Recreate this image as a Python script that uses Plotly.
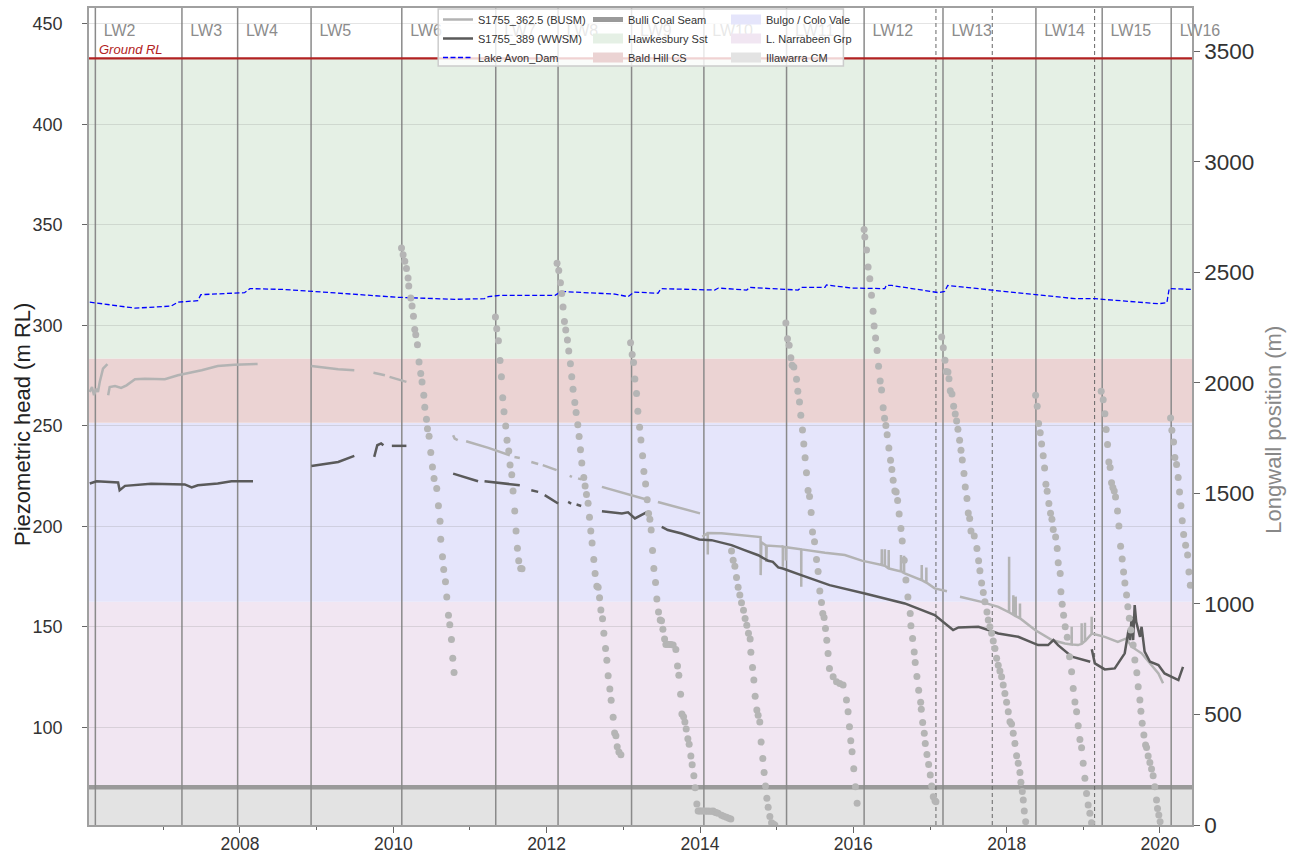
import plotly.graph_objects as go
from datetime import datetime

# ---------------- data (decimal years) ----------------
# Lake Avon dam level (m RL)
dam_t = [2006.04, 2006.63, 2007.10, 2007.19, 2007.45, 2007.49, 2008.06, 2008.13, 2008.58, 2008.93,
         2009.45, 2010.06, 2010.80, 2011.19, 2011.24, 2011.41, 2012.11, 2012.19, 2012.89, 2013.06,
         2013.14, 2013.45, 2013.49, 2014.19, 2014.24, 2014.61, 2014.65, 2015.28, 2015.32, 2015.63,
         2015.65, 2015.98, 2016.41, 2016.43, 2016.50, 2017.11, 2017.19, 2017.23, 2017.80, 2018.89,
         2019.15, 2019.98, 2020.09, 2020.12, 2020.41]
dam_v = [311.5, 308.5, 309.5, 311.5, 312.2, 315.2, 316.2, 318.2, 317.8, 316.8,
         315.5, 313.9, 312.9, 313.2, 314.2, 314.9, 314.9, 316.8, 315.5, 314.2,
         316.5, 315.9, 318.2, 317.5, 318.5, 317.5, 318.8, 317.5, 318.8, 318.8,
         320.0, 318.5, 318.2, 319.8, 319.8, 316.2, 316.8, 319.8, 317.5, 313.2,
         313.2, 310.7, 311.2, 318.2, 317.8]

# S1755_362.5 (BUSM) piezometric head, None = data gap
busm_t = [2006.04, 2006.069, 2006.095, 2006.127, 2006.147, 2006.17, 2006.213, 2006.27, None,
          2006.28, 2006.30, 2006.37, 2006.45, 2006.52, 2006.63, 2006.76, 2007.02, 2007.19, 2007.50,
          2007.71, 2007.93, 2008.23, None,
          2008.93, 2009.28, 2009.49, None,
          2009.74, 2009.89, None, 2009.95, 2010.17, None,
          2010.78, 2010.80, 2010.84, None, 2010.95, 2011.24, 2011.52, None, 2011.58, 2011.65, None,
          2011.80, 2011.89, None, 2011.95, 2012.13, None, 2012.30, 2012.33, None, 2012.41, 2012.45, None,
          2012.72, 2013.30, None, 2013.45, 2014.00, None,
          2014.03, 2014.09, 2014.100, 2014.101, 2014.102, 2014.28, 2014.50, 2014.71, 2014.790, 2014.791,
          2014.80, 2014.86, 2014.865, 2014.87, 2015.08, 2015.081, 2015.082, 2015.12, 2015.121, 2015.122,
          2015.32, 2015.321, 2015.322, 2015.63, 2015.89, 2016.11, 2016.37, 2016.371, 2016.372,
          2016.41, 2016.411, 2016.412, 2016.46, 2016.461, 2016.462, 2016.62, 2016.621, 2016.622,
          2016.66, 2016.661, 2016.662, 2016.67, 2016.89, 2016.891, 2016.892, 2016.95, 2016.951, 2016.952,
          2017.06, 2017.22, None,
          2017.39, 2017.67, 2017.89, 2018.03, 2018.031, 2018.032, 2018.085, 2018.086, 2018.087,
          2018.116, 2018.117, 2018.118, 2018.15, 2018.172, 2018.173, 2018.174, 2018.37, 2018.59,
          2018.76, 2018.847, 2018.848, 2018.849, 2018.93, 2018.977, 2018.978, 2018.979, 2019.02,
          2019.021, 2019.022, 2019.108, 2019.109, 2019.11, 2019.28, 2019.45, 2019.56, 2019.63,
          2019.76, 2019.98, 2020.04]
busm_v = [266.8, 269.3, 265.2, 268.5, 266.8, 271.8, 278.4, 280.7, None,
          265.2, 269.3, 269.8, 268.8, 270.1, 273.1, 273.4, 273.1, 275.1, 277.6,
          279.7, 280.4, 280.7, None,
          279.7, 278.1, 277.6, None,
          276.4, 275.1, None, 274.3, 271.8, None,
          245.3, 243.6, 242.8, None, 242.3, 239.0, 235.3, None, 234.5, 234.0, None,
          232.0, 231.0, None, 230.4, 227.9, None, 225.1, 224.6, None, 223.8, 223.3, None,
          219.6, 213.3, None, 212.1, 206.4, None,
          194.8, 196.7, 196.7, 186.0, 196.6, 196.5, 195.8, 195.2, 194.6, 175.7,
          192.0, 190.5, 182.3, 190.4, 189.9, 179.8, 189.9, 189.6, 183.0, 189.6,
          188.5, 169.9, 188.5, 186.8, 185.7, 182.9, 180.7, 188.6, 180.7,
          180.3, 188.6, 180.3, 179.0, 188.2, 179.0, 177.5, 185.7, 177.5,
          176.8, 185.3, 176.8, 176.6, 173.2, 180.7, 173.2, 172.0, 179.5, 172.0,
          169.1, 167.7, None,
          164.9, 162.4, 159.9, 157.2, 184.8, 157.2, 156.0, 165.7, 156.0,
          155.3, 165.0, 155.3, 154.7, 154.2, 161.6, 154.2, 148.4, 143.4,
          141.7, 141.2, 150.0, 141.2, 140.9, 141.5, 151.7, 141.5, 142.8,
          152.0, 142.8, 146.5, 155.0, 146.7, 145.0, 142.5, 144.2, 140.1,
          136.8, 126.8, 121.9]

# S1755_389 (WWSM) piezometric head
wwsm_t = [2006.04, 2006.13, 2006.41, 2006.43, 2006.50, 2006.84, 2007.28, 2007.37, 2007.45, 2007.71,
          2007.89, 2008.17, None,
          2008.93, 2009.28, 2009.49, None,
          2009.75, 2009.79, 2009.84, 2009.87, None, 2009.98, 2010.17, None,
          2010.78, 2010.87, 2011.105, None, 2011.19, 2011.45, 2011.52, 2011.58, 2011.65, None,
          2011.80, 2011.89, None, 2011.975, 2012.15, None, 2012.28, 2012.32, None, 2012.39, 2012.45, None,
          2012.72, 2012.98, 2013.06, 2013.15, 2013.30, None,
          2013.50, 2013.58, 2013.76, 2013.99, 2014.15, 2014.41, 2014.58, 2014.76, 2014.89, 2014.95,
          2015.02, 2015.08, 2015.32, 2015.69, 2016.15, 2016.67, 2017.06, 2017.19, 2017.30, 2017.37,
          2017.63, 2017.76, 2017.89, 2018.15, 2018.41, 2018.54, 2018.61, 2018.67, 2018.85, 2019.09, None,
          2019.11, 2019.15, 2019.28, 2019.41, 2019.54, 2019.59, 2019.61, 2019.63, 2019.65, 2019.67,
          2019.69, 2019.74, 2019.76, 2019.80, 2019.87, 2019.98, 2020.06, 2020.24, 2020.30]
wwsm_v = [221.3, 222.4, 221.8, 217.9, 220.1, 221.1, 220.8, 219.3, 220.4, 221.3,
          222.4, 222.4, None,
          230.0, 232.0, 235.0, None,
          234.5, 240.3, 241.2, 240.3, None, 240.0, 240.0, None,
          226.2, 225.1, 222.4, None, 222.4, 221.3, 221.3, 220.8, 220.4, None,
          217.9, 217.1, None, 215.5, 211.3, None, 212.1, 211.3, None, 210.8, 210.1, None,
          207.5, 206.4, 206.9, 203.9, 206.9, None,
          199.7, 198.1, 196.4, 193.4, 193.1, 190.6, 188.1, 185.6, 182.8, 182.3,
          179.5, 179.0, 175.7, 170.7, 166.6, 161.6, 155.8, 151.7, 148.4, 149.7,
          150.0, 148.4, 146.7, 145.0, 140.9, 140.9, 143.4, 140.9, 135.1, 132.6, None,
          138.8, 131.8, 128.8, 129.3, 136.8, 148.4, 143.4, 155.0, 143.4, 160.8,
          152.5, 145.0, 150.0, 137.6, 132.6, 131.0, 126.8, 123.5, 130.1]

# Longwall face position (m), (decimal year, position) per longwall
lw6 = [(2010.106, 2610), (2010.127, 2580), (2010.149, 2550), (2010.171, 2517), (2010.192, 2474),
       (2010.201, 2438), (2010.227, 2384), (2010.244, 2348), (2010.262, 2302), (2010.279, 2242),
       (2010.292, 2218), (2010.314, 2173), (2010.335, 2095), (2010.357, 2042), (2010.374, 2004),
       (2010.397, 1944), (2010.410, 1890), (2010.432, 1835), (2010.445, 1793), (2010.466, 1759),
       (2010.488, 1685), (2010.510, 1620), (2010.531, 1567), (2010.566, 1522), (2010.588, 1444),
       (2010.609, 1374), (2010.618, 1293), (2010.641, 1213), (2010.657, 1156), (2010.680, 1100),
       (2010.697, 1032), (2010.719, 949), (2010.736, 906), (2010.758, 839), (2010.775, 754),
       (2010.792, 690)]
lw7 = [(2011.332, 2298), (2011.349, 2245), (2011.371, 2191), (2011.392, 2101), (2011.410, 2028),
       (2011.427, 1933), (2011.444, 1870), (2011.466, 1805), (2011.483, 1741), (2011.506, 1692),
       (2011.523, 1629), (2011.545, 1584), (2011.562, 1511), (2011.584, 1420), (2011.601, 1330),
       (2011.619, 1252), (2011.636, 1195), (2011.662, 1160), (2011.679, 1159)]
lw8 = [(2012.136, 2541), (2012.158, 2508), (2012.180, 2453), (2012.197, 2404), (2012.214, 2343),
       (2012.232, 2278), (2012.249, 2239), (2012.271, 2194), (2012.288, 2144), (2012.310, 2087),
       (2012.327, 2028), (2012.344, 1971), (2012.367, 1911), (2012.384, 1866), (2012.406, 1811),
       (2012.423, 1757), (2012.441, 1698), (2012.458, 1638), (2012.484, 1572), (2012.501, 1534),
       (2012.519, 1495), (2012.540, 1456), (2012.558, 1392), (2012.575, 1330), (2012.592, 1276),
       (2012.614, 1201), (2012.631, 1138), (2012.654, 1080), (2012.671, 1075), (2012.689, 1028),
       (2012.706, 973), (2012.728, 933), (2012.745, 868), (2012.767, 799), (2012.784, 745),
       (2012.801, 675), (2012.823, 615), (2012.840, 564), (2012.866, 488), (2012.885, 416),
       (2012.902, 404), (2012.919, 354), (2012.941, 330), (2012.967, 318)]
lw9 = [(2013.093, 2182), (2013.114, 2128), (2013.132, 2092), (2013.149, 2018), (2013.171, 1952),
       (2013.188, 1872), (2013.211, 1799), (2013.228, 1742), (2013.250, 1670), (2013.267, 1599),
       (2013.289, 1543), (2013.310, 1471), (2013.328, 1409), (2013.345, 1383), (2013.362, 1335),
       (2013.380, 1242), (2013.397, 1160), (2013.419, 1097), (2013.436, 1022), (2013.458, 964),
       (2013.480, 927), (2013.497, 924), (2013.515, 886), (2013.537, 841), (2013.554, 817),
       (2013.575, 818), (2013.595, 816), (2013.620, 817), (2013.649, 814), (2013.684, 794),
       (2013.706, 719), (2013.723, 677), (2013.746, 591), (2013.763, 502), (2013.785, 490),
       (2013.802, 466), (2013.819, 434), (2013.841, 390), (2013.858, 365), (2013.880, 312),
       (2013.897, 273), (2013.919, 223), (2013.936, 169), (2013.958, 95), (2013.975, 63),
       (2013.995, 63), (2014.015, 63), (2014.040, 63), (2014.065, 63), (2014.085, 62),
       (2014.106, 63), (2014.130, 62), (2014.150, 62), (2014.171, 63), (2014.195, 58),
       (2014.215, 55), (2014.236, 53), (2014.280, 44), (2014.310, 40), (2014.345, 35),
       (2014.375, 31), (2014.402, 27)]
lw10 = [(2014.411, 1240), (2014.432, 1198), (2014.454, 1171), (2014.476, 1120), (2014.497, 1075),
        (2014.519, 1040), (2014.541, 1005), (2014.567, 972), (2014.588, 934), (2014.610, 904),
        (2014.632, 867), (2014.654, 841), (2014.663, 781), (2014.685, 713), (2014.702, 656),
        (2014.719, 583), (2014.741, 520), (2014.758, 496), (2014.780, 466), (2014.797, 375),
        (2014.819, 301), (2014.836, 237), (2014.854, 176), (2014.872, 121), (2014.889, 80),
        (2014.911, 38), (2014.933, 10), (2014.955, 5), (2014.976, 0)]
lw11 = [(2015.120, 2271), (2015.141, 2200), (2015.163, 2170), (2015.185, 2114), (2015.202, 2080),
        (2015.224, 2072), (2015.259, 2016), (2015.276, 1962), (2015.298, 1914), (2015.315, 1854),
        (2015.337, 1787), (2015.354, 1724), (2015.371, 1661), (2015.389, 1594), (2015.410, 1513),
        (2015.429, 1486), (2015.450, 1414), (2015.468, 1326), (2015.494, 1281), (2015.520, 1201),
        (2015.541, 1147), (2015.563, 1059), (2015.585, 1007), (2015.602, 957), (2015.619, 939),
        (2015.637, 889), (2015.654, 836), (2015.671, 776), (2015.689, 708), (2015.737, 671),
        (2015.781, 648), (2015.824, 640), (2015.867, 633), (2015.911, 565), (2015.932, 512),
        (2015.950, 444), (2015.967, 381), (2015.984, 331), (2016.006, 255), (2016.028, 173),
        (2016.050, 98)]
lw12 = [(2016.141, 2694), (2016.150, 2660), (2016.172, 2601), (2016.193, 2524), (2016.215, 2471),
        (2016.237, 2396), (2016.258, 2324), (2016.271, 2257), (2016.290, 2203), (2016.310, 2147),
        (2016.329, 2075), (2016.350, 2009), (2016.368, 1968), (2016.389, 1888), (2016.407, 1840),
        (2016.424, 1807), (2016.441, 1766), (2016.463, 1706), (2016.485, 1650), (2016.502, 1608),
        (2016.519, 1560), (2016.541, 1511), (2016.558, 1507), (2016.577, 1468), (2016.597, 1407),
        (2016.620, 1341), (2016.637, 1285), (2016.663, 1198), (2016.685, 1108), (2016.711, 1032),
        (2016.741, 957), (2016.750, 901), (2016.772, 844), (2016.793, 783), (2016.806, 735),
        (2016.828, 672), (2016.851, 610), (2016.877, 555), (2016.885, 524), (2016.903, 464),
        (2016.924, 415), (2016.937, 369), (2016.959, 319), (2016.981, 274), (2017.002, 226),
        (2017.020, 176), (2017.041, 128), (2017.063, 110), (2017.076, 105)]
lw13 = [(2017.151, 2208), (2017.172, 2159), (2017.194, 2102), (2017.211, 2052), (2017.233, 2049),
        (2017.246, 2019), (2017.263, 1965), (2017.285, 1950), (2017.307, 1894), (2017.328, 1859),
        (2017.346, 1828), (2017.363, 1790), (2017.385, 1741), (2017.403, 1695), (2017.420, 1651),
        (2017.442, 1590), (2017.459, 1529), (2017.481, 1477), (2017.498, 1412), (2017.516, 1387),
        (2017.533, 1330), (2017.576, 1307), (2017.611, 1251), (2017.633, 1195), (2017.650, 1150),
        (2017.672, 1095), (2017.694, 1052), (2017.715, 1010), (2017.742, 964), (2017.759, 927),
        (2017.780, 897), (2017.802, 867), (2017.824, 832), (2017.846, 799), (2017.868, 754),
        (2017.889, 723), (2017.911, 697), (2017.933, 671), (2017.954, 633), (2017.976, 595),
        (2017.998, 555), (2018.020, 512), (2018.042, 467), (2018.063, 457), (2018.085, 415),
        (2018.107, 369), (2018.129, 313), (2018.150, 279), (2018.172, 238), (2018.185, 193),
        (2018.203, 151), (2018.216, 113), (2018.229, 63), (2018.247, 15)]
lw14 = [(2018.377, 1944), (2018.398, 1894), (2018.416, 1816), (2018.437, 1775), (2018.455, 1724),
        (2018.476, 1670), (2018.494, 1615), (2018.511, 1542), (2018.528, 1510), (2018.550, 1454),
        (2018.572, 1410), (2018.590, 1383), (2018.607, 1337), (2018.638, 1303), (2018.659, 1251),
        (2018.672, 1186), (2018.698, 1138), (2018.707, 1055), (2018.724, 999), (2018.742, 949),
        (2018.763, 897), (2018.790, 849), (2018.820, 761), (2018.847, 693), (2018.868, 618),
        (2018.890, 557), (2018.912, 512), (2018.933, 449), (2018.955, 387), (2018.977, 349),
        (2018.998, 279), (2019.020, 211), (2019.042, 143), (2019.063, 90), (2019.085, 53),
        (2019.107, 10)]
lw15 = [(2019.233, 1962), (2019.259, 1924), (2019.281, 1861), (2019.298, 1789), (2019.316, 1721),
        (2019.333, 1642), (2019.350, 1617), (2019.368, 1548), (2019.385, 1527), (2019.403, 1511),
        (2019.420, 1484), (2019.446, 1420), (2019.464, 1353), (2019.486, 1261), (2019.507, 1203),
        (2019.525, 1145), (2019.542, 1095), (2019.564, 1040), (2019.581, 987), (2019.600, 935),
        (2019.620, 882), (2019.650, 814), (2019.672, 746), (2019.698, 689), (2019.716, 625),
        (2019.738, 565), (2019.751, 515), (2019.768, 460), (2019.790, 407), (2019.812, 362),
        (2019.825, 351), (2019.846, 312), (2019.868, 283), (2019.890, 253), (2019.911, 223),
        (2019.933, 173), (2019.955, 113), (2019.968, 75), (2019.985, 45), (2020.002, 15)]
lw16 = [(2020.138, 1841), (2020.155, 1786), (2020.177, 1733), (2020.194, 1662), (2020.216, 1631),
        (2020.237, 1572), (2020.255, 1507), (2020.273, 1444), (2020.290, 1376), (2020.308, 1314),
        (2020.334, 1266), (2020.360, 1221), (2020.377, 1145), (2020.395, 1085)]

# Longwall start dates (decimal years) and names
lw_names = ["LW2", "LW3", "LW4", "LW5", "LW6", "LW7", "LW8", "LW9", "LW10", "LW11",
            "LW12", "LW13", "LW14", "LW15", "LW16"]
lw_start = [2006.113, 2007.243, 2007.970, 2008.926, 2010.110, 2011.336, 2012.149, 2013.106,
            2014.050, 2015.129, 2016.141, 2017.168, 2018.381, 2019.246, 2020.146]
dashed_dates = [2017.076, 2017.811, 2019.147]

# Geological units (m RL): name, bottom, top, colour
ground_rl = 432.7
bulli_seam = 70.2
units = [("Illawarra CM", 40.0, 70.2, "#e3e3e3"),
         ("L. Narrabeen Grp", 70.2, 162.4, "#f1e6f2"),
         ("Bulgo / Colo Vale", 162.4, 251.5, "#e5e5fb"),
         ("Bald Hill CS", 251.5, 283.4, "#ebd3d3"),
         ("Hawkesbury Sst", 283.4, 432.7, "#e5f0e5")]


def dy(y):
    if y is None:
        return None
    yr = int(y)
    s = datetime(yr, 1, 1)
    e = datetime(yr + 1, 1, 1)
    return s + (e - s) * (y - yr)


FONT = "Liberation Sans, Arial, sans-serif"
X0, X1 = 2006.03, 2020.417
YL = [51.4, 457.8]
YR = [0, 3696]
W, H = 1299, 861

fig = go.Figure()

fig.add_trace(go.Scatter(x=[dy(t) for t in busm_t], y=busm_v, mode="lines",
                         name="S1755_362.5 (BUSM)", line=dict(color="#b3b3b3", width=2.5),
                         connectgaps=False, legend="legend", hoverinfo="skip"))
fig.add_trace(go.Scatter(x=[dy(t) for t in wwsm_t], y=wwsm_v, mode="lines",
                         name="S1755_389 (WWSM)", line=dict(color="#5a5a5a", width=2.5),
                         connectgaps=False, legend="legend", hoverinfo="skip"))
fig.add_trace(go.Scatter(x=[dy(t) for t in dam_t], y=dam_v, mode="lines",
                         name="Lake Avon_Dam", line=dict(color="#0000ff", width=1.3, dash="5px,2.5px"),
                         legend="legend", hoverinfo="skip"))

# legend-only entries for the coal seam and geological units
fig.add_trace(go.Scatter(x=[None], y=[None], mode="lines", name="Bulli Coal Seam",
                         line=dict(color="#9a9a9a", width=5), legend="legend2"))
unit_map = {u[0]: u for u in units}
for nm, lg in [("Hawkesbury Sst", "legend2"), ("Bald Hill CS", "legend2"),
               ("Bulgo / Colo Vale", "legend3"), ("L. Narrabeen Grp", "legend3"),
               ("Illawarra CM", "legend3")]:
    fig.add_trace(go.Scatter(x=[None], y=[None], mode="lines", name=nm,
                             line=dict(color=unit_map[nm][3], width=10), legend=lg))

# longwall labels
fig.add_trace(go.Scatter(x=[dy(s + 0.11) for s in lw_start], y=[446] * len(lw_start),
                         mode="text", text=lw_names, textposition="middle right",
                         textfont=dict(size=16, color="#8c8c8c", family=FONT),
                         cliponaxis=False, showlegend=False, hoverinfo="skip"))

# longwall position dots on right axis
all_lw = lw6 + lw7 + lw8 + lw9 + lw10 + lw11 + lw12 + lw13 + lw14 + lw15 + lw16
fig.add_trace(go.Scatter(x=[dy(t) for t, m in all_lw], y=[m for t, m in all_lw], mode="markers",
                         marker=dict(color="#b5b5b5", size=7, line=dict(width=0)),
                         yaxis="y2", showlegend=False, hoverinfo="skip", name="Longwall position"))

shapes = []
for nm, lo, hi, col in units:
    shapes.append(dict(type="rect", xref="paper", x0=0, x1=1, yref="y", y0=max(lo, YL[0]), y1=hi,
                       fillcolor=col, line=dict(width=0), layer="below"))
shapes.append(dict(type="line", xref="paper", x0=0, x1=1, yref="y", y0=bulli_seam, y1=bulli_seam,
                   line=dict(color="#9a9a9a", width=4.5), layer="below"))
for s in lw_start:
    shapes.append(dict(type="line", xref="x", x0=dy(s), x1=dy(s), yref="paper", y0=0, y1=1,
                       line=dict(color="#8a8a8a", width=1.5), layer="below"))
for s in dashed_dates:
    shapes.append(dict(type="line", xref="x", x0=dy(s), x1=dy(s), yref="paper", y0=0, y1=1,
                       line=dict(color="#666666", width=1, dash="4px,3px"), layer="below"))
shapes.append(dict(type="line", xref="paper", x0=0, x1=1, yref="y", y0=ground_rl, y1=ground_rl,
                   line=dict(color="#b22222", width=2.2), layer="below"))
# legend frame
PL, PW, PT, PH = 89, 1102.4, 8, 817
def px(x):
    return (x - PL) / PW
def py(y):
    return (PT + PH - y) / PH
shapes.append(dict(type="rect", xref="paper", yref="paper", x0=px(438), x1=px(843),
                   y0=py(66), y1=py(9), fillcolor="rgba(255,255,255,0.8)",
                   line=dict(color="#cccccc", width=1.5), layer="above"))

leg_common = dict(orientation="v", xanchor="left", yanchor="top", bgcolor="rgba(0,0,0,0)",
                  xref="container", yref="container",
                  borderwidth=0, font=dict(size=11, color="#333", family=FONT), itemwidth=30,
                  tracegroupgap=0)
LEG_TOP = 1 - 5.0 / H

annotations = [
    dict(x=px(97), xref="paper", xanchor="left", y=437.2, yref="y", yanchor="middle",
         text="<i>Ground RL</i>", showarrow=False, font=dict(size=13, color="#b22222", family=FONT)),
    # axis titles
    dict(x=px(22), xref="paper", xanchor="center", y=py(424), yref="paper", yanchor="middle",
         text="Piezometric head (m RL)", textangle=-90, showarrow=False,
         font=dict(size=22, color="#222", family=FONT)),
    dict(x=px(1272), xref="paper", xanchor="center", y=py(430), yref="paper", yanchor="middle",
         text="Longwall position (m)", textangle=-90, showarrow=False,
         font=dict(size=22, color="#888", family=FONT)),
]

fig.update_layout(
    width=W, height=H,
    margin=dict(l=89, r=107, t=8, b=36, autoexpand=False),
    paper_bgcolor="white", plot_bgcolor="white",
    font=dict(family=FONT, color="#333"),
    shapes=shapes,
    annotations=annotations,
    legend=dict(x=438 / W, y=LEG_TOP, **leg_common),
    legend2=dict(x=588 / W, y=LEG_TOP, **leg_common),
    legend3=dict(x=726 / W, y=LEG_TOP, **leg_common),
    xaxis=dict(type="date", range=[dy(X0), dy(X1)], showgrid=False, zeroline=False,
               ticks="outside", ticklen=6, tickcolor="#666", tickwidth=1,
               dtick="M24", tick0="2008-01-01", tickformat="%Y", ticklabelstandoff=-4,
               tickfont=dict(size=17.5, color="#333"),
               minor=dict(dtick="M12", tick0="2007-01-01", ticks="outside", ticklen=3,
                          tickcolor="#666", showgrid=False),
               showline=True, linecolor="#a0a0a0", linewidth=1.5, mirror=True),
    yaxis=dict(range=YL, dtick=50, tick0=0, showgrid=True, gridcolor="rgba(120,120,120,0.2)",
               gridwidth=1, zeroline=False, ticks="outside", ticklen=5, tickcolor="#666",
               ticklabelstandoff=16, tickfont=dict(size=18, color="#333"),
               showline=True, linecolor="#a0a0a0", linewidth=1.5),
    yaxis2=dict(range=YR, overlaying="y", side="right", dtick=500, tick0=0, showgrid=False,
                zeroline=False, ticks="outside", ticklen=6, tickcolor="#666",
                tickfont=dict(size=22.5, color="#333"),
                showline=True, linecolor="#a0a0a0", linewidth=1.5),
)

fig.write_html("out.html", config={"displayModeBar": False},
               post_script="document.body.style.margin='0';document.body.style.padding='0';")
